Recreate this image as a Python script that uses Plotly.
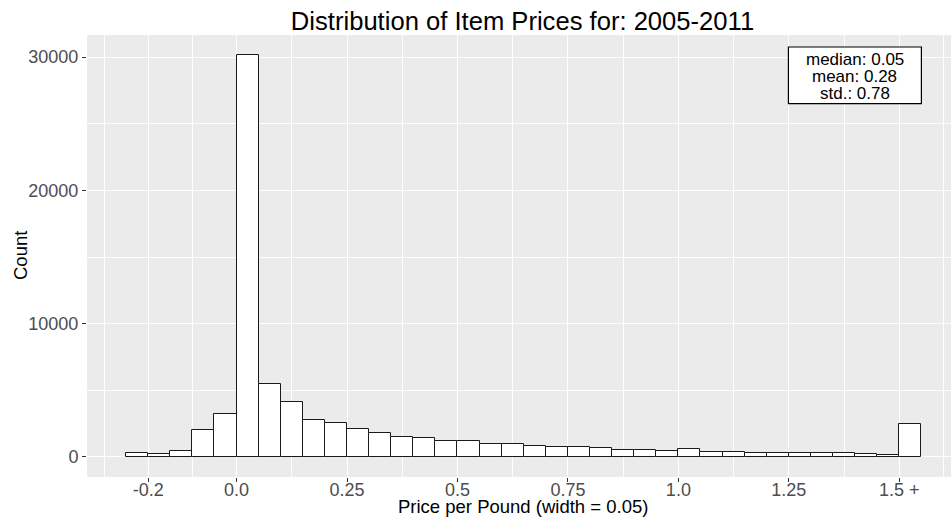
import plotly.graph_objects as go

# ---- data ----
bin_width = 0.05
bin_starts = [-0.25, -0.20, -0.15, -0.10, -0.05, 0.00, 0.05, 0.10, 0.15, 0.20,
              0.25, 0.30, 0.35, 0.40, 0.45, 0.50, 0.55, 0.60, 0.65, 0.70,
              0.75, 0.80, 0.85, 0.90, 0.95, 1.00, 1.05, 1.10, 1.15, 1.20,
              1.25, 1.30, 1.35, 1.40, 1.45, 1.50]
counts = [300, 250, 450, 2050, 3225, 30150, 5450, 4100, 2800, 2550,
          2125, 1775, 1525, 1425, 1200, 1175, 1000, 1000, 850, 775,
          775, 650, 550, 500, 475, 600, 400, 350, 325, 325,
          325, 275, 275, 225, 175, 2475]
x_tick_vals = [-0.2, 0.0, 0.25, 0.5, 0.75, 1.0, 1.25, 1.5]
x_tick_text = ["-0.2", "0.0", "0.25", "0.5", "0.75", "1.0", "1.25", "1.5 +"]
x_minor_vals = [-0.3, -0.1, 0.125, 0.375, 0.625, 0.875, 1.125, 1.375, 1.6]
y_tick_vals = [0, 10000, 20000, 30000]
y_tick_text = ["0", "10000", "20000", "30000"]
y_minor_vals = [5000, 15000, 25000]
stats_lines = ["median: 0.05", "mean: 0.28", "std.: 0.78"]
title_text = "Distribution of Item Prices for: 2005-2011"
x_title = "Price per Pound (width = 0.05)"
y_title = "Count"

centers = [s + bin_width / 2 for s in bin_starts]

fig = go.Figure()
fig.add_trace(go.Bar(
    x=centers, y=counts, width=bin_width,
    marker=dict(color="white", line=dict(color="#1a1a1a", width=1)),
    hoverinfo="x+y", showlegend=False,
))

W, H = 951, 519
ml, mr, mt, mb = 87, 0, 35, 42
pw = W - ml - mr
ph = H - mt - mb

fig.update_layout(
    width=W, height=H,
    margin=dict(l=ml, r=mr, t=mt, b=mb, pad=0, autoexpand=False),
    paper_bgcolor="white", plot_bgcolor="#EBEBEB",
    font=dict(family="Liberation Sans, Arial, sans-serif", color="black"),
    bargap=0,
    title=dict(text=title_text, font=dict(size=25.6, color="black"),
               xref="container", yref="container",
               x=522.5 / W, xanchor="center",
               y=1 - 21.5 / H, yanchor="middle", automargin=False),
)

fig.update_xaxes(
    range=[-0.3385, 1.617], automargin=False,
    tickvals=x_tick_vals, ticktext=x_tick_text,
    ticks="outside", ticklen=4, tickwidth=1, tickcolor="#333333",
    tickfont=dict(size=18, color="#4D4D4D"), ticklabelstandoff=-8,
    showgrid=True, gridcolor="white", gridwidth=1.2,
    zeroline=False, showline=False,
    minor=dict(tickvals=x_minor_vals, showgrid=True, gridcolor="white",
               gridwidth=0.6, ticks=""),
)
fig.update_yaxes(
    range=[-1507.5, 31657.5], automargin=False,
    tickvals=y_tick_vals, ticktext=y_tick_text,
    ticks="outside", ticklen=4, tickwidth=1, tickcolor="#333333",
    tickfont=dict(size=18, color="#4D4D4D"),
    showgrid=True, gridcolor="white", gridwidth=1.2,
    zeroline=False, showline=False,
    minor=dict(tickvals=y_minor_vals, showgrid=True, gridcolor="white",
               gridwidth=0.6, ticks=""),
)

# stats box
fig.add_shape(type="rect", xref="x", yref="y",
              x0=1.249, x1=1.550, y0=26505, y1=30757,
              line=dict(color="black", width=1.2), fillcolor="white", layer="above")
line_y = [29813, 28530, 27293]
for txt, yy in zip(stats_lines, line_y):
    fig.add_annotation(x=1.3995, y=yy, xref="x", yref="y", text=txt,
                       showarrow=False, xanchor="center", yanchor="middle",
                       font=dict(size=17, color="black"))

# axis titles
fig.add_annotation(text=x_title, xref="paper", yref="paper",
                   x=(523.3 - ml) / pw, y=(mt + ph - 506) / ph,
                   xanchor="center", yanchor="middle", showarrow=False,
                   font=dict(size=18.5, color="black"))
fig.add_annotation(text=y_title, xref="paper", yref="paper",
                   x=(20 - ml) / pw, y=0.5, textangle=-90,
                   xanchor="center", yanchor="middle", showarrow=False,
                   font=dict(size=18.5, color="black"))

fig.write_html("out.html", config={"displayModeBar": False},
               post_script="document.body.style.margin='0';document.body.style.overflow='hidden';")
